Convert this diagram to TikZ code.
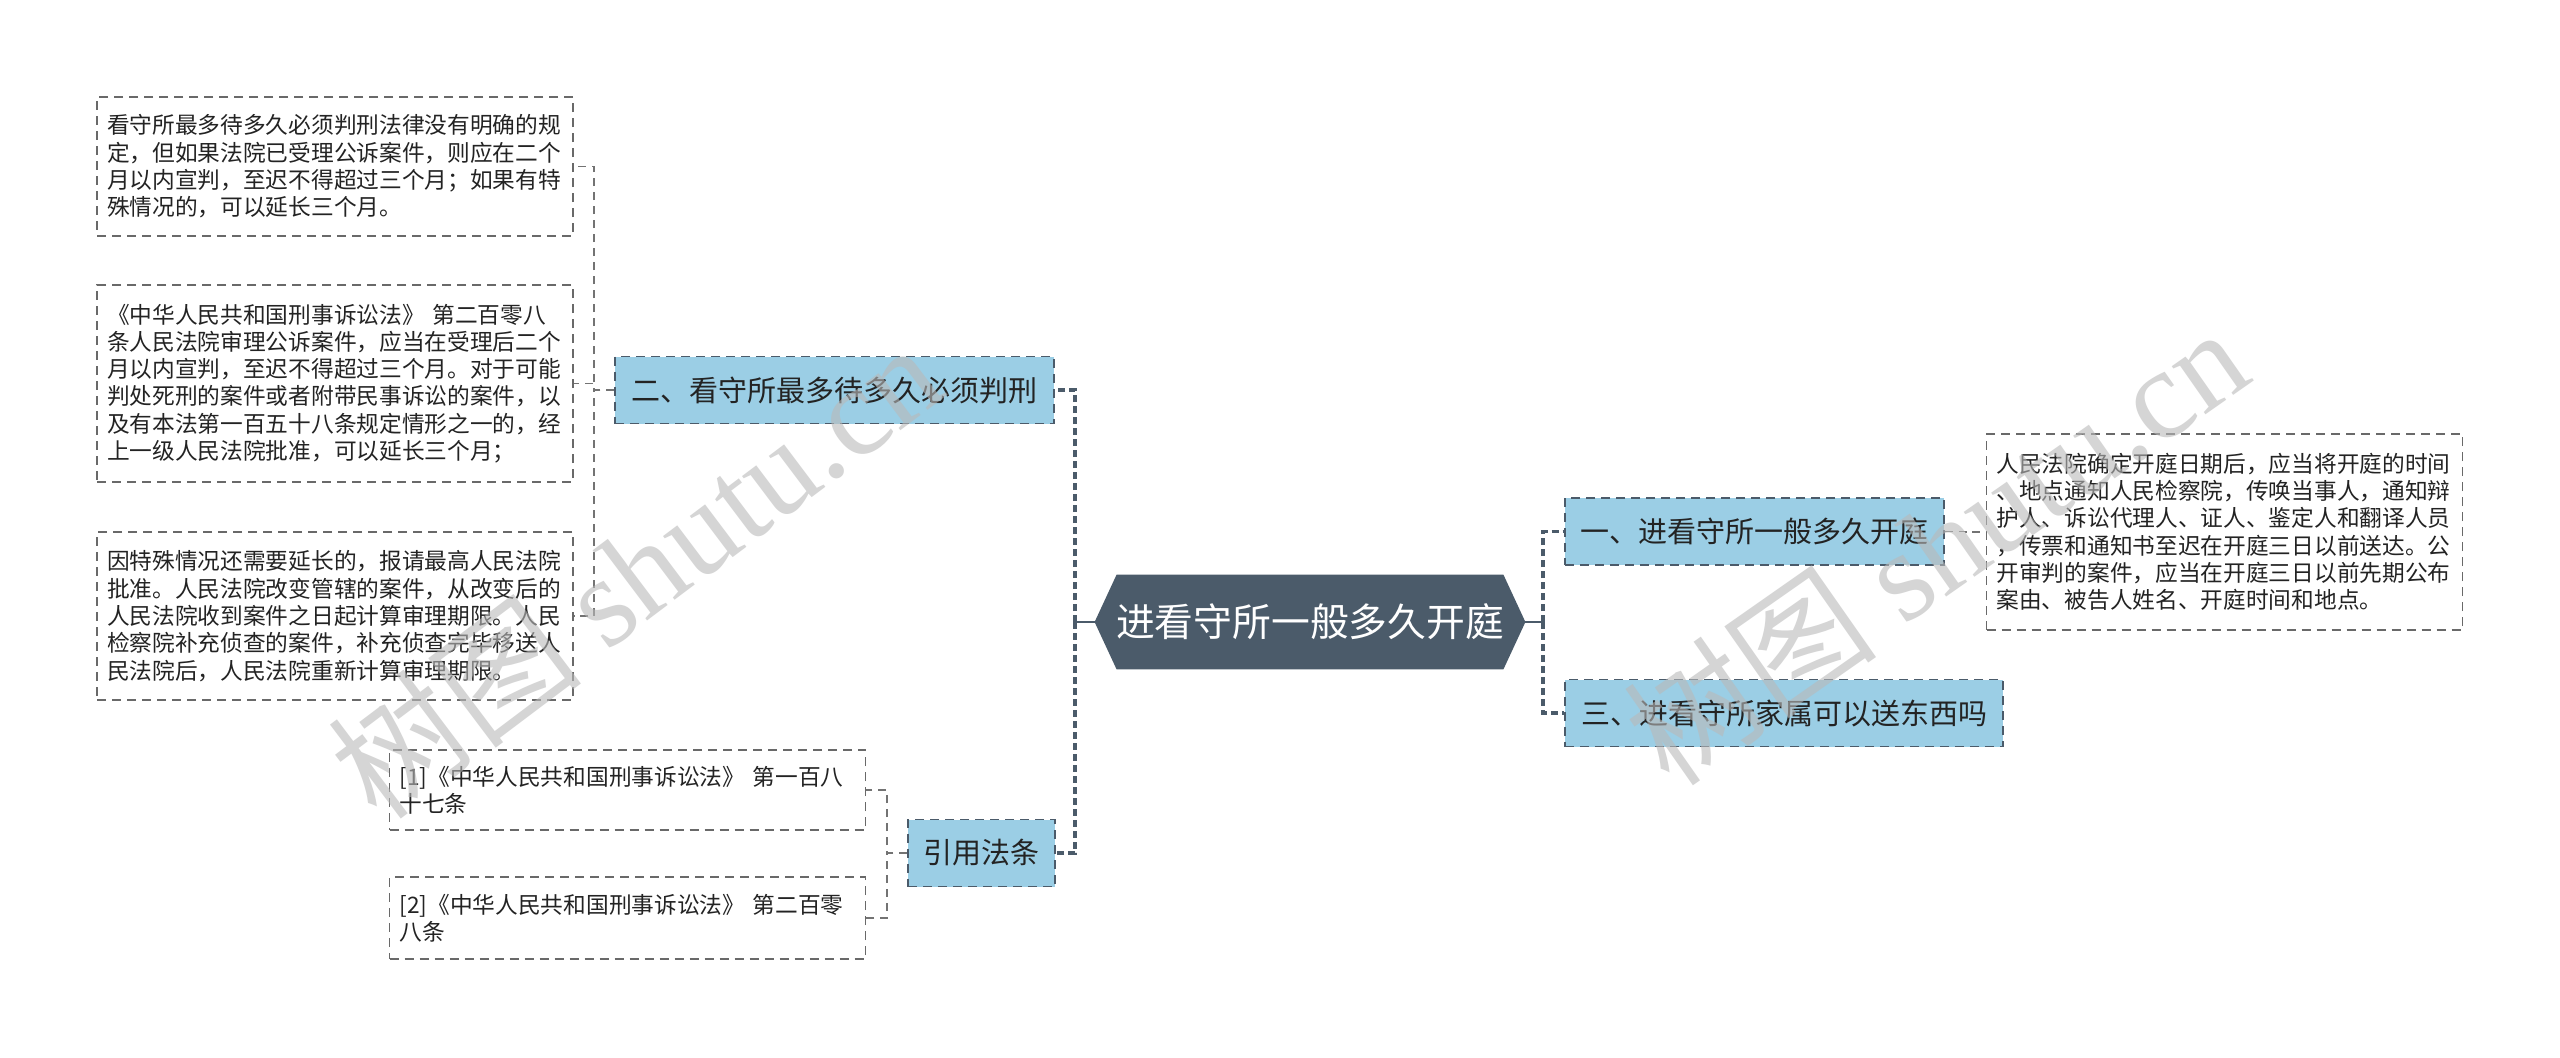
\documentclass[tikz,border=0pt]{standalone}
\usepackage{fontspec}
\setmainfont{Noto Sans CJK SC}
\newfontfamily\wmlatin{Liberation Serif}
\usetikzlibrary{backgrounds}
\definecolor{slate}{RGB}{75,91,106}
\definecolor{lvlblue}{RGB}{155,206,229}
\definecolor{leafborder}{RGB}{105,105,105}
\definecolor{conngray}{RGB}{115,115,115}
\definecolor{txtcol}{RGB}{35,35,35}
\definecolor{wmgray}{RGB}{185,185,185}
\begin{document}
\begin{tikzpicture}[x=0.5pt,y=-0.5pt,
  leaf/.style={draw=leafborder, line width=0.7pt, dash pattern=on 4.5pt off 3pt,
    fill=white, text=txtcol, align=left, text width=228pt, inner xsep=5pt, inner ysep=0pt,
    font=\fontsize{11.35}{13.65}\selectfont, anchor=center},
  lvlone/.style={draw=slate, line width=0.9pt, dash pattern=on 4.5pt off 3pt,
    fill=lvlblue, text=txtcol, inner sep=0pt, minimum height=33.5pt,
    font=\fontsize{14.5}{17}\selectfont, anchor=center},
  rootnode/.style={inner sep=0pt, minimum width=215pt, minimum height=47pt, text=white,
    font=\fontsize{19.4}{23}\selectfont, anchor=center},
  thickconn/.style={draw=slate, line width=1.6pt, dash pattern=on 3.5pt off 2pt},
  solidconn/.style={draw=slate, line width=1.3pt},
  thinconn/.style={draw=conngray, line width=0.75pt, dash pattern=on 4pt off 3pt},
  wm/.style={text=wmgray, text opacity=0.6, font=\fontsize{64}{64}\selectfont, inner sep=0pt, anchor=center}
]
\useasboundingbox (0,0) rectangle (2560,1057);
\begin{scope}[on background layer]
  \fill[white] (0,0) rectangle (2560,1057);
\end{scope}

% root
\node[rootnode] (root) at (1310,622) {进看守所一般多久开庭};
\begin{scope}[on background layer]
  \fill[slate] (root.west) -- ([xshift=11pt]root.north west) -- ([xshift=-11pt]root.north east)
    -- (root.east) -- ([xshift=-11pt]root.south east) -- ([xshift=11pt]root.south west) -- cycle;
\end{scope}

% level one
\node[lvlone, minimum width=219.5pt] (n2) at (834.5,390) {二、看守所最多待多久必须判刑};
\node[lvlone, minimum width=73.5pt] (ref) at (981.5,853) {引用法条};
\node[lvlone, minimum width=189.5pt] (n1) at (1754.5,531.5) {一、进看守所一般多久开庭};
\node[lvlone, minimum width=219pt] (n3) at (1784,713) {三、进看守所家属可以送东西吗};

% leaves
\node[leaf, minimum height=69.5pt] (la) at (335,166.5) {看守所最多待多久必须判刑法律没有明确的规\\定，但如果法院已受理公诉案件，则应在二个\\月以内宣判，至迟不得超过三个月；如果有特\\殊情况的，可以延长三个月。};
\node[leaf, minimum height=98.5pt] (lb) at (335,383.5) {《中华人民共和国刑事诉讼法》 第二百零八\\条人民法院审理公诉案件，应当在受理后二个\\月以内宣判，至迟不得超过三个月。对于可能\\判处死刑的案件或者附带民事诉讼的案件，以\\及有本法第一百五十八条规定情形之一的，经\\上一级人民法院批准，可以延长三个月；};
\node[leaf, minimum height=84pt] (lc) at (335,616) {因特殊情况还需要延长的，报请最高人民法院\\批准。人民法院改变管辖的案件，从改变后的\\人民法院收到案件之日起计算审理期限。人民\\检察院补充侦查的案件，补充侦查完毕移送人\\民法院后，人民法院重新计算审理期限。};
\node[leaf, minimum height=40pt] (ld) at (627.5,790) {[1]《中华人民共和国刑事诉讼法》 第一百八\\十七条};
\node[leaf, minimum height=41pt] (le) at (627.5,918) {[2]《中华人民共和国刑事诉讼法》 第二百零\\八条};
\node[leaf, minimum height=98pt] (lf) at (2224.5,532) {人民法院确定开庭日期后，应当将开庭的时间\\、地点通知人民检察院，传唤当事人，通知辩\\护人、诉讼代理人、证人、鉴定人和翻译人员\\，传票和通知书至迟在开庭三日以前送达。公\\开审判的案件，应当在开庭三日以前先期公布\\案由、被告人姓名、开庭时间和地点。};

% root connectors
\coordinate (jl) at (1075,622);
\coordinate (jr) at (1543,622);
\draw[solidconn] (root.west) -- (jl);
\draw[thickconn] (jl) |- (n2.east);
\draw[thickconn] (jl) |- (ref.east);
\draw[solidconn] (root.east) -- (jr);
\draw[thickconn] (jr) |- (n1.west);
\draw[thickconn] (jr) |- (n3.west);

% leaf connectors
\draw[thinconn] (n2.west) -- ++(-20,0) |- (la.east);
\draw[thinconn] (n2.west) -- ++(-20,0) |- (lb.east);
\draw[thinconn] (n2.west) -- ++(-20,0) |- (lc.east);
\draw[thinconn] (ref.west) -- ++(-20,0) |- (ld.east);
\draw[thinconn] (ref.west) -- ++(-20,0) |- (le.east);
\draw[thinconn] (n1.east) -- ++(21,0) |- (lf.west);

% watermarks
\node[wm, rotate=37] (wm1) at (635,570) {树图 {\wmlatin shutu.cn}};
\node[wm, rotate=35] (wm2) at (1935,545) {树图 {\wmlatin shutu.cn}};
\end{tikzpicture}
\end{document}
